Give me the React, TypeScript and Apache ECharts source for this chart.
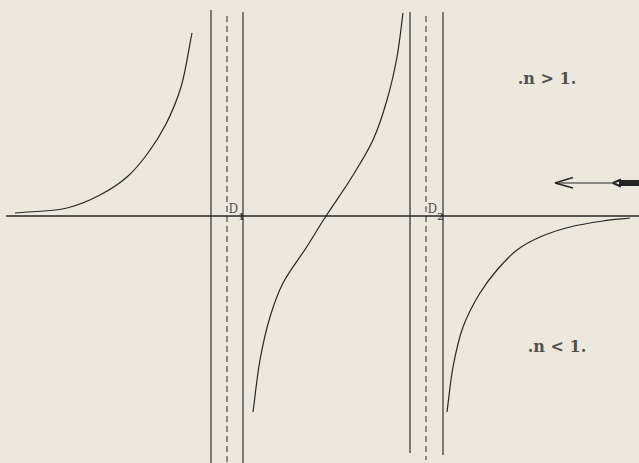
import React, { useEffect, useRef } from "react";
import * as echarts from "echarts";

// Dispersion curve: x = position along spectrum (arbitrary units), y = n - 1 (arbitrary units)
const leftBranch: [number, number][] = [
  [1.5, 0.3], [6.7, 0.8], [10.0, 2.1], [12.7, 3.9], [14.8, 6.3], [16.6, 9.2], [18.1, 12.9], [19.2, 18.3],
];
const middleBranch: [number, number][] = [
  [25.3, -19.6], [26.0, -14.4], [27.0, -10.1], [28.3, -6.7], [30.6, -3.2], [32.6, 0],
  [35.0, 3.6], [37.3, 7.6], [38.7, 11.6], [39.7, 15.9], [40.3, 20.3],
];
const rightBranch: [number, number][] = [
  [44.7, -19.6], [45.3, -15.1], [46.3, -11.1], [48.0, -7.7], [49.7, -5.4], [51.7, -3.4],
  [54.0, -2.1], [57.0, -1.1], [60.3, -0.5], [63.0, -0.2],
];
const horizontalAxis: [number, number][] = [[0.6, 0], [63.9, 0]];

// Absorption bands: solid boundaries and dashed centre lines
const bandEdges = [
  { x: 21.1, top: 20.6, bottom: -24.7 },
  { x: 24.3, top: 20.4, bottom: -24.7 },
  { x: 41.0, top: 20.4, bottom: -23.7 },
  { x: 44.3, top: 20.4, bottom: -23.9 },
];
const bandCentres = [
  { x: 22.7, top: 20.0, bottom: -24.7 },
  { x: 42.6, top: 20.0, bottom: -24.4 },
];
const bandNames = [
  { x: 22.85, main: "D", sub: "1" },
  { x: 42.75, main: "D", sub: "2" },
];
const regionLabels = [
  { x: 54.7, y: 13.8, text: ".n > 1." },
  { x: 55.7, y: -13.0, text: ".n < 1." },
];
const arrowShaft: [number, number][] = [[55.6, 3.3], [61.4, 3.3]];
const arrowHead: [number, number][] = [[57.3, 3.85], [55.5, 3.3], [57.3, 2.8]];
const arrowTail: [number, number][] = [[61.9, 3.3], [63.9, 3.3]];
const arrowNotch: [number, number][] = [[62.1, 3.65], [61.3, 3.3], [62.1, 2.95]];

const INK = "#262626";

// Centripetal Catmull-Rom through pixel points -> SVG path data
function splinePath(pts: number[][]): string {
  const n = pts.length;
  if (n < 2) return "";
  const P = (i: number): number[] => {
    if (i < 0) return [2 * pts[0][0] - pts[1][0], 2 * pts[0][1] - pts[1][1]];
    if (i >= n) return [2 * pts[n - 1][0] - pts[n - 2][0], 2 * pts[n - 1][1] - pts[n - 2][1]];
    return pts[i];
  };
  const dist = (a: number[], b: number[]) => Math.pow(Math.hypot(a[0] - b[0], a[1] - b[1]), 0.5) || 1e-6;
  let d = `M${pts[0][0]},${pts[0][1]}`;
  for (let i = 0; i < n - 1; i++) {
    const p0 = P(i - 1), p1 = P(i), p2 = P(i + 1), p3 = P(i + 2);
    const d1 = dist(p0, p1), d2 = dist(p1, p2), d3 = dist(p2, p3);
    const b1 = [0, 1].map(
      (k) => (d1 * d1 * p2[k] - d2 * d2 * p0[k] + (2 * d1 * d1 + 3 * d1 * d2 + d2 * d2) * p1[k]) / (3 * d1 * (d1 + d2))
    );
    const b2 = [0, 1].map(
      (k) => (d3 * d3 * p1[k] - d2 * d2 * p3[k] + (2 * d3 * d3 + 3 * d3 * d2 + d2 * d2) * p2[k]) / (3 * d3 * (d3 + d2))
    );
    d += ` C${b1[0]},${b1[1]} ${b2[0]},${b2[1]} ${p2[0]},${p2[1]}`;
  }
  return d;
}

function curveSeries(data: [number, number][]) {
  return {
    type: "custom",
    silent: true,
    data,
    renderItem: (params: any, api: any) => {
      if (params.dataIndex !== 0) return null;
      const pts = data.map((p) => api.coord(p));
      return {
        type: "path",
        shape: { pathData: splinePath(pts) },
        style: { stroke: INK, fill: "none", lineWidth: 1.2 },
      };
    },
    z: 3,
  };
}

export default function App() {
  const ref = useRef<HTMLDivElement>(null);
  useEffect(() => {
    if (!ref.current) return;
    const chart = echarts.init(ref.current, undefined, { renderer: "svg" });
    const lineSeries = (data: [number, number][], opts: any = {}) => ({
      type: "line",
      data,
      symbol: "none",
      silent: true,
      lineStyle: { color: INK, width: 1.2, ...(opts.lineStyle || {}) },
      z: 2,
    });
    const series: any[] = [
      lineSeries(horizontalAxis, { lineStyle: { width: 1.3 } }),
      curveSeries(leftBranch),
      curveSeries(middleBranch),
      curveSeries(rightBranch),
      ...bandEdges.map((b) =>
        lineSeries(
          [
            [b.x, b.top],
            [b.x, b.bottom],
          ],
          { lineStyle: { width: 1.1, color: "#1f1f1f" } }
        )
      ),
      ...bandCentres.map((b) =>
        lineSeries(
          [
            [b.x, b.top],
            [b.x, b.bottom],
          ],
          { lineStyle: { width: 1, color: "#2a2a2a", type: [6, 4] } }
        )
      ),
      lineSeries(arrowShaft, { lineStyle: { width: 1 } }),
      lineSeries(arrowHead, { lineStyle: { width: 1.6 } }),
      lineSeries(arrowTail, { lineStyle: { width: 6 } }),
      lineSeries(arrowNotch, { lineStyle: { width: 2 } }),
      {
        type: "scatter",
        silent: true,
        symbolSize: 0,
        data: bandNames.map((b) => ({ value: [b.x, 0], name: b.main + b.sub })),
        label: {
          show: true,
          position: [0, -13],
          formatter: (p: any) => {
            const b = bandNames[p.dataIndex];
            return `{d|${b.main}}{s|${b.sub}}`;
          },
          rich: {
            d: { fontFamily: "DejaVu Serif", fontSize: 12, color: INK, lineHeight: 18, verticalAlign: "top" },
            s: { fontFamily: "DejaVu Serif", fontSize: 10, fontWeight: "bold", color: INK, lineHeight: 18, verticalAlign: "bottom" },
          },
        },
        z: 5,
      },
      {
        type: "scatter",
        silent: true,
        symbolSize: 0,
        data: regionLabels.map((r) => ({ value: [r.x, r.y], name: r.text })),
        label: {
          show: true,
          position: "inside",
          formatter: (p: any) => regionLabels[p.dataIndex].text,
          fontFamily: "DejaVu Serif",
          fontWeight: "bold",
          fontSize: 16,
          color: INK,
        },
        z: 5,
      },
    ];
    chart.setOption({
      animation: false,
      backgroundColor: "#ece9dc",
      grid: { left: 0, right: 0, top: 0, bottom: 0, containLabel: false },
      xAxis: { type: "value", min: 0, max: 63.9, show: false },
      yAxis: { type: "value", min: -24.7, max: 21.6, show: false },
      series,
    });
    return () => chart.dispose();
  }, []);
  return (
    <div
      ref={ref}
      style={{ position: "fixed", left: 0, top: 0, width: 639, height: 463 }}
    />
  );
}
